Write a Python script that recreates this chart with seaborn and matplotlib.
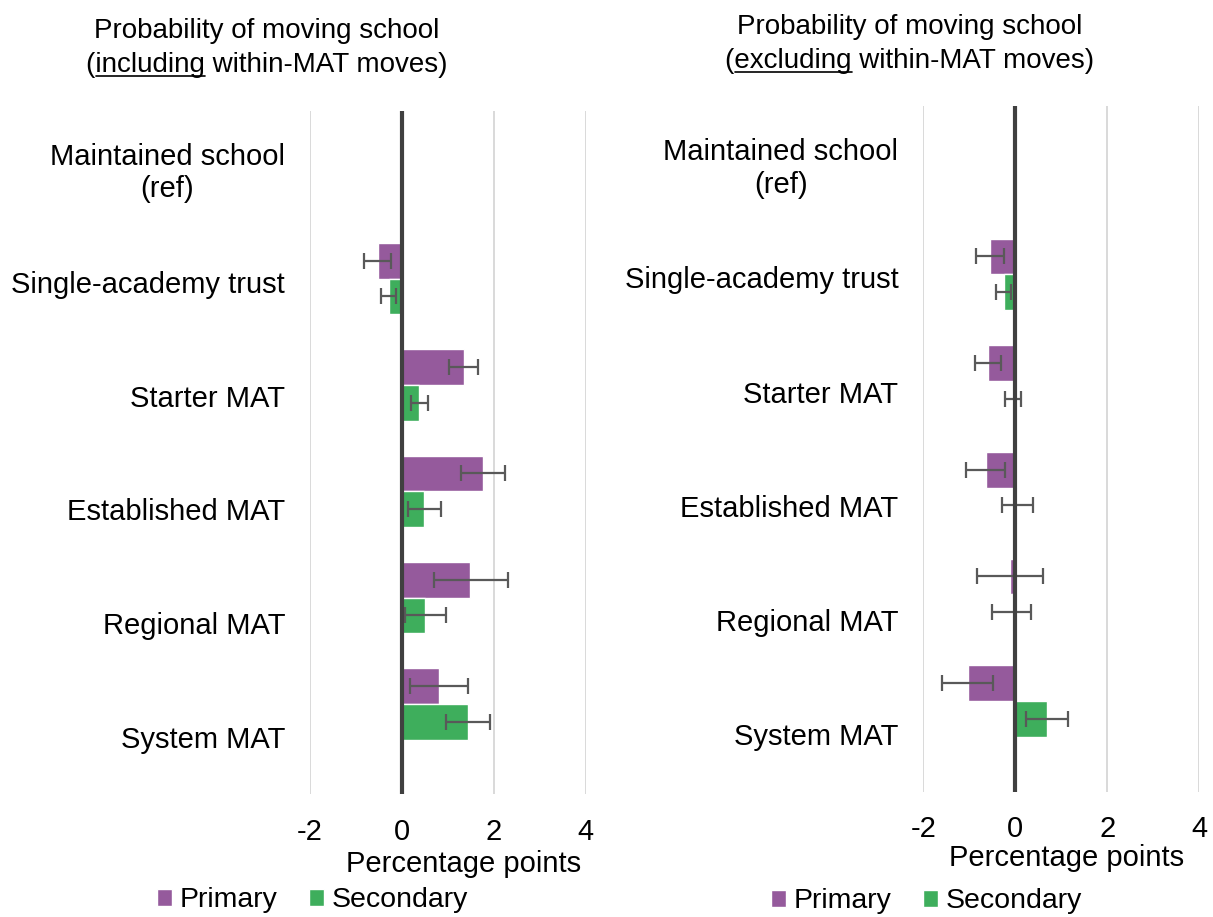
import numpy as np
import pandas as pd
import seaborn as sns
import matplotlib.pyplot as plt
from matplotlib.lines import Line2D

nan = np.nan

categories = ["Maintained school\n(ref)", "Single-academy trust", "Starter MAT",
              "Established MAT", "Regional MAT", "System MAT"]
levels = ["Primary", "Secondary"]

# panel 1: including within-MAT moves
inc_primary = [0, -0.53, 1.35, 1.76, 1.49, 0.80]
inc_primary_lo = [nan, -0.83, 1.03, 1.28, 0.70, 0.17]
inc_primary_hi = [nan, -0.23, 1.66, 2.25, 2.30, 1.44]
inc_secondary = [0, -0.29, 0.38, 0.49, 0.51, 1.43]
inc_secondary_lo = [nan, -0.45, 0.20, 0.14, 0.07, 0.96]
inc_secondary_hi = [nan, -0.13, 0.56, 0.84, 0.96, 1.91]

# panel 2: excluding within-MAT moves
exc_primary = [0, -0.54, -0.59, -0.64, -0.12, -1.03]
exc_primary_lo = [nan, -0.85, -0.88, -1.07, -0.84, -1.59]
exc_primary_hi = [nan, -0.24, -0.31, -0.22, 0.60, -0.49]
exc_secondary = [0, -0.25, -0.06, 0.03, -0.08, 0.68]
exc_secondary_lo = [nan, -0.42, -0.22, -0.30, -0.51, 0.23]
exc_secondary_hi = [nan, -0.10, 0.12, 0.38, 0.34, 1.15]

purple = "#955A9C"
green = "#3EAE5C"

sns.set_style("white")
plt.rcParams['font.family'] = ['Liberation Sans', 'DejaVu Sans']
plt.rcParams['text.color'] = 'black'
plt.rcParams['axes.labelcolor'] = 'black'
plt.rcParams['xtick.color'] = 'black'
plt.rcParams['ytick.color'] = 'black'
FS = 21
TFS = 20

fig = plt.figure(figsize=(12.13, 9.17), dpi=100)
ax1 = fig.add_axes([0.2556, 0.1338, 0.2273, 0.7455])
ax2 = fig.add_axes([0.7612, 0.1367, 0.2275, 0.7480])


def make_df(prim, sec):
    rows = []
    for c, v in zip(categories, prim):
        rows.append({"category": c, "level": "Primary", "value": v})
    for c, v in zip(categories, sec):
        rows.append({"category": c, "level": "Secondary", "value": v})
    return pd.DataFrame(rows)


def draw_panel(ax, prim, p_lo, p_hi, sec, s_lo, s_hi, leg_x, leg_y):
    df = make_df(prim, sec)
    sns.barplot(data=df, y="category", x="value", hue="level", order=categories,
                hue_order=levels, palette=[purple, green], saturation=1,
                width=0.67, errorbar=None, orient="h", ax=ax, zorder=2)

    # error bars from the bars seaborn drew (Primary first, then Secondary)
    patches = ax.patches[:12]
    los = list(p_lo) + list(s_lo)
    his = list(p_hi) + list(s_hi)
    for p, lo, hi in zip(patches, los, his):
        if np.isnan(lo):
            continue
        yc = p.get_y() + p.get_height() / 2
        mid = (lo + hi) / 2
        ax.errorbar(mid, yc, xerr=[[mid - lo], [hi - mid]], fmt="none",
                    ecolor="#595959", elinewidth=1.6, capsize=6, capthick=1.6,
                    zorder=4)

    ax.set_xlim(-2, 4)
    ax.set_xticks([-2, 0, 2, 4])
    ax.set_xticklabels(["-2", "0", "2", "4"], fontsize=FS)
    ax.grid(axis="x", color="#d9d9d9", lw=1.4, zorder=0)
    ax.grid(axis="y", visible=False)
    ax.axvline(0, color="#404040", lw=3, zorder=5)
    ax.set_ylim(5.85, -0.58)
    ax.set_yticks([i * 1.07 - 0.04 for i in range(len(categories))])
    ax.set_yticklabels(categories, fontsize=FS)
    ax.get_yticklabels()[0].set_multialignment("center")
    ax.tick_params(axis="y", length=0, pad=18)
    ax.tick_params(axis="x", length=0, pad=17)
    ax.set_ylabel("")
    ax.set_xlabel("Percentage points", fontsize=FS)
    for s in ax.spines.values():
        s.set_visible(False)
    sns.move_legend(ax, "center", bbox_to_anchor=(leg_x, leg_y), ncol=2,
                    frameon=False, title=None, fontsize=20.5, handlelength=0.55,
                    handleheight=0.55, handletextpad=0.25, columnspacing=1.1)


draw_panel(ax1, inc_primary, inc_primary_lo, inc_primary_hi,
           inc_secondary, inc_secondary_lo, inc_secondary_hi, 0.008, -0.155)
draw_panel(ax2, exc_primary, exc_primary_lo, exc_primary_hi,
           exc_secondary, exc_secondary_lo, exc_secondary_hi, 0.011, -0.160)

ax1.xaxis.set_label_coords(0.557, -0.113)
ax1.xaxis.label.set_verticalalignment("baseline")
ax2.xaxis.set_label_coords(0.519, -0.109)
ax2.xaxis.label.set_verticalalignment("baseline")

# titles, with the key word underlined
t1a = fig.text(267 / 1213, 1 - 38.3 / 917, "Probability of moving school",
               ha="center", va="baseline", fontsize=TFS)
t1b = fig.text(267 / 1213, 1 - 71.7 / 917, "(including within-MAT moves)",
               ha="center", va="baseline", fontsize=TFS)
t2a = fig.text(910 / 1213, 1 - 34.3 / 917, "Probability of moving school",
               ha="center", va="baseline", fontsize=TFS)
t2b = fig.text(910 / 1213, 1 - 67.7 / 917, "(excluding within-MAT moves)",
               ha="center", va="baseline", fontsize=TFS)


def underline(txt, prefix, word):
    fig.canvas.draw()
    r = fig.canvas.get_renderer()
    bb = txt.get_window_extent(r)
    fp = txt.get_fontproperties()
    w_pre, _, _ = r.get_text_width_height_descent(prefix, fp, ismath=False)
    w_all, _, _ = r.get_text_width_height_descent(prefix + word, fp, ismath=False)
    _, _, d = r.get_text_width_height_descent(txt.get_text(), fp, ismath=False)
    y = bb.y0 + d - 4
    inv = fig.transFigure.inverted()
    (fx0, fy), (fx1, _) = inv.transform([(bb.x0 + w_pre, y), (bb.x0 + w_all, y)])
    fig.add_artist(Line2D([fx0, fx1], [fy, fy], transform=fig.transFigure,
                          color="black", lw=1.2))


underline(t1b, "(", "including")
underline(t2b, "(", "excluding")

fig.savefig("out.png", dpi=100)
